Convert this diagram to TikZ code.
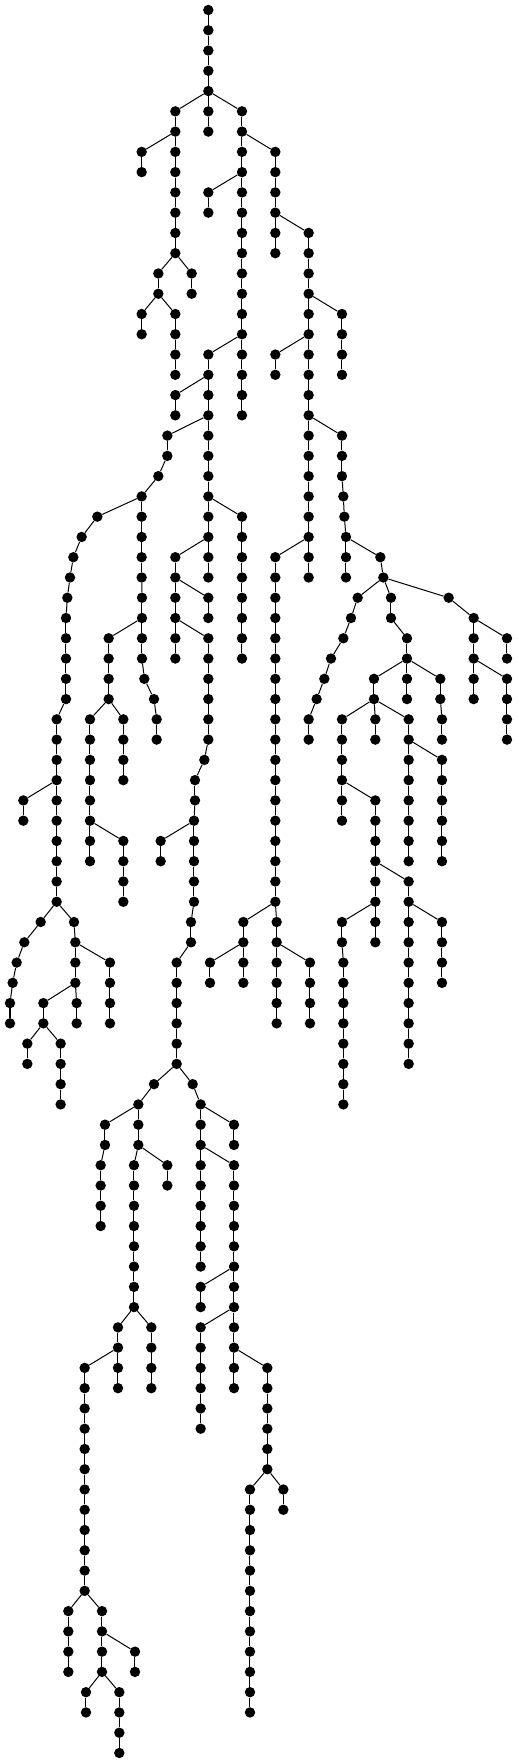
\documentclass[tikz,border=0pt]{standalone}
\usepackage{tikz}
\tikzset{
  dot/.style={circle,fill=black,draw=none,inner sep=0pt,minimum size=10.4pt},
  edge/.style={draw=black,line width=1pt}
}
\newcommand\C[3]{\pgfmathtruncatemacro\pl{#1-1}\node[dot] (n#1x#2) at (#2,#1) {};\draw[edge] (n\pl x#3) -- (n#1x#2);}
\begin{document}
\begin{tikzpicture}
\useasboundingbox (0pt,0pt) rectangle (518pt,-1763pt);
\begin{scope}[x=0.333333pt,y=-20.267pt,yshift=-10pt]
\node[dot] (n0x625) at (625,0) {};
\C{1}{625}{625}
\C{2}{625}{625}
\C{3}{625}{625}
\C{4}{625}{625}
\C{5}{526}{625} \C{5}{625}{625} \C{5}{726}{625}
\C{6}{526}{526} \C{6}{625}{625} \C{6}{726}{726}
\C{7}{425}{526} \C{7}{526}{526} \C{7}{726}{726} \C{7}{826}{726}
\C{8}{425}{425} \C{8}{526}{526} \C{8}{726}{726} \C{8}{826}{826}
\C{9}{526}{526} \C{9}{625}{726} \C{9}{726}{726} \C{9}{826}{826}
\C{10}{526}{526} \C{10}{625}{625} \C{10}{726}{726} \C{10}{826}{826}
\C{11}{526}{526} \C{11}{726}{726} \C{11}{826}{826} \C{11}{926}{826}
\C{12}{526}{526} \C{12}{726}{726} \C{12}{826}{826} \C{12}{926}{926}
\C{13}{475}{526} \C{13}{575}{526} \C{13}{726}{726} \C{13}{926}{926}
\C{14}{475}{475} \C{14}{575}{575} \C{14}{726}{726} \C{14}{926}{926}
\C{15}{425}{475} \C{15}{526}{475} \C{15}{726}{726} \C{15}{926}{926} \C{15}{1026}{926}
\C{16}{425}{425} \C{16}{526}{526} \C{16}{726}{726} \C{16}{926}{926} \C{16}{1026}{1026}
\C{17}{526}{526} \C{17}{625}{726} \C{17}{726}{726} \C{17}{826}{926} \C{17}{926}{926} \C{17}{1026}{1026}
\C{18}{526}{526} \C{18}{625}{625} \C{18}{726}{726} \C{18}{826}{826} \C{18}{926}{926} \C{18}{1026}{1026}
\C{19}{526}{625} \C{19}{625}{625} \C{19}{726}{726} \C{19}{926}{926}
\C{20}{526}{526} \C{20}{625}{625} \C{20}{726}{726} \C{20}{926}{926}
\C{21}{502}{625} \C{21}{625}{625} \C{21}{926}{926} \C{21}{1026}{926}
\C{22}{502}{502} \C{22}{625}{625} \C{22}{926}{926} \C{22}{1026}{1026}
\C{23}{475}{502} \C{23}{625}{625} \C{23}{926}{926} \C{23}{1026}{1026}
\C{24}{425}{475} \C{24}{625}{625} \C{24}{926}{926} \C{24}{1030}{1026}
\C{25}{292}{425} \C{25}{425}{425} \C{25}{625}{625} \C{25}{726}{625} \C{25}{926}{926} \C{25}{1033}{1030}
\C{26}{245}{292} \C{26}{425}{425} \C{26}{625}{625} \C{26}{726}{726} \C{26}{926}{926} \C{26}{1038}{1033}
\C{27}{220}{245} \C{27}{425}{425} \C{27}{526}{625} \C{27}{625}{625} \C{27}{726}{726} \C{27}{826}{926} \C{27}{926}{926} \C{27}{1038}{1038} \C{27}{1141}{1038}
\C{28}{210}{220} \C{28}{425}{425} \C{28}{526}{526} \C{28}{625}{625} \C{28}{726}{726} \C{28}{826}{826} \C{28}{926}{926} \C{28}{1038}{1038} \C{28}{1150}{1141}
\C{29}{202}{210} \C{29}{426}{425} \C{29}{526}{526} \C{29}{625}{526} \C{29}{726}{726} \C{29}{826}{826} \C{29}{1073}{1150} \C{29}{1173}{1150} \C{29}{1346}{1150}
\C{30}{198}{202} \C{30}{426}{426} \C{30}{526}{526} \C{30}{625}{625} \C{30}{726}{726} \C{30}{826}{826} \C{30}{1053}{1073} \C{30}{1173}{1173} \C{30}{1421}{1346}
\C{31}{198}{198} \C{31}{326}{426} \C{31}{426}{426} \C{31}{526}{526} \C{31}{625}{526} \C{31}{726}{726} \C{31}{826}{826} \C{31}{1030}{1053} \C{31}{1221}{1173} \C{31}{1421}{1421} \C{31}{1521}{1421}
\C{32}{198}{198} \C{32}{326}{326} \C{32}{426}{426} \C{32}{526}{526} \C{32}{625}{625} \C{32}{726}{726} \C{32}{826}{826} \C{32}{993}{1030} \C{32}{1221}{1221} \C{32}{1421}{1421} \C{32}{1521}{1521}
\C{33}{198}{198} \C{33}{326}{326} \C{33}{433}{426} \C{33}{625}{625} \C{33}{826}{826} \C{33}{973}{993} \C{33}{1122}{1221} \C{33}{1221}{1221} \C{33}{1321}{1221} \C{33}{1421}{1421} \C{33}{1521}{1421}
\C{34}{198}{198} \C{34}{326}{326} \C{34}{462}{433} \C{34}{625}{625} \C{34}{826}{826} \C{34}{950}{973} \C{34}{1122}{1122} \C{34}{1221}{1221} \C{34}{1321}{1321} \C{34}{1421}{1421} \C{34}{1521}{1521}
\C{35}{170}{198} \C{35}{270}{326} \C{35}{370}{326} \C{35}{470}{462} \C{35}{625}{625} \C{35}{826}{826} \C{35}{926}{950} \C{35}{1026}{1122} \C{35}{1126}{1122} \C{35}{1226}{1122} \C{35}{1326}{1321} \C{35}{1521}{1521}
\C{36}{170}{170} \C{36}{270}{270} \C{36}{370}{370} \C{36}{470}{470} \C{36}{625}{625} \C{36}{826}{826} \C{36}{926}{926} \C{36}{1026}{1026} \C{36}{1126}{1126} \C{36}{1226}{1226} \C{36}{1326}{1326} \C{36}{1521}{1521}
\C{37}{170}{170} \C{37}{270}{270} \C{37}{370}{370} \C{37}{613}{625} \C{37}{826}{826} \C{37}{1026}{1026} \C{37}{1226}{1226} \C{37}{1326}{1226}
\C{38}{170}{170} \C{38}{270}{270} \C{38}{370}{370} \C{38}{585}{613} \C{38}{826}{826} \C{38}{1026}{1026} \C{38}{1226}{1226} \C{38}{1326}{1326}
\C{39}{70}{170} \C{39}{170}{170} \C{39}{270}{270} \C{39}{585}{585} \C{39}{826}{826} \C{39}{1026}{1026} \C{39}{1126}{1026} \C{39}{1226}{1226} \C{39}{1326}{1326}
\C{40}{70}{70} \C{40}{170}{170} \C{40}{270}{270} \C{40}{582}{585} \C{40}{826}{826} \C{40}{1026}{1026} \C{40}{1126}{1126} \C{40}{1226}{1226} \C{40}{1326}{1326}
\C{41}{170}{170} \C{41}{270}{270} \C{41}{370}{270} \C{41}{482}{582} \C{41}{582}{582} \C{41}{826}{826} \C{41}{1126}{1126} \C{41}{1226}{1226} \C{41}{1326}{1326}
\C{42}{170}{170} \C{42}{270}{270} \C{42}{370}{370} \C{42}{482}{482} \C{42}{582}{582} \C{42}{826}{826} \C{42}{1126}{1126} \C{42}{1226}{1226} \C{42}{1326}{1326}
\C{43}{170}{170} \C{43}{370}{370} \C{43}{582}{582} \C{43}{826}{826} \C{43}{1126}{1126} \C{43}{1226}{1126}
\C{44}{170}{170} \C{44}{370}{370} \C{44}{582}{582} \C{44}{826}{826} \C{44}{1126}{1126} \C{44}{1226}{1226}
\C{45}{122}{170} \C{45}{222}{170} \C{45}{573}{582} \C{45}{730}{826} \C{45}{830}{826} \C{45}{1026}{1126} \C{45}{1126}{1126} \C{45}{1226}{1226} \C{45}{1326}{1226}
\C{46}{73}{122} \C{46}{226}{222} \C{46}{573}{573} \C{46}{730}{730} \C{46}{830}{830} \C{46}{1026}{1026} \C{46}{1126}{1126} \C{46}{1226}{1226} \C{46}{1326}{1326}
\C{47}{50}{73} \C{47}{226}{226} \C{47}{330}{226} \C{47}{530}{573} \C{47}{630}{730} \C{47}{730}{730} \C{47}{830}{830} \C{47}{930}{830} \C{47}{1030}{1026} \C{47}{1226}{1226} \C{47}{1326}{1326}
\C{48}{38}{50} \C{48}{226}{226} \C{48}{330}{330} \C{48}{530}{530} \C{48}{630}{630} \C{48}{730}{730} \C{48}{830}{830} \C{48}{930}{930} \C{48}{1030}{1030} \C{48}{1226}{1226} \C{48}{1326}{1326}
\C{49}{30}{38} \C{49}{130}{226} \C{49}{230}{226} \C{49}{330}{330} \C{49}{530}{530} \C{49}{830}{830} \C{49}{930}{930} \C{49}{1030}{1030} \C{49}{1226}{1226}
\C{50}{30}{30} \C{50}{130}{130} \C{50}{230}{230} \C{50}{330}{330} \C{50}{530}{530} \C{50}{830}{830} \C{50}{930}{930} \C{50}{1030}{1030} \C{50}{1226}{1226}
\C{51}{82}{130} \C{51}{182}{130} \C{51}{530}{530} \C{51}{1030}{1030} \C{51}{1226}{1226}
\C{52}{82}{82} \C{52}{182}{182} \C{52}{530}{530} \C{52}{1030}{1030} \C{52}{1226}{1226}
\C{53}{182}{182} \C{53}{462}{530} \C{53}{578}{530} \C{53}{1030}{1030}
\C{54}{182}{182} \C{54}{415}{462} \C{54}{602}{578} \C{54}{1030}{1030}
\C{55}{315}{415} \C{55}{415}{415} \C{55}{602}{602} \C{55}{702}{602}
\C{56}{315}{315} \C{56}{415}{415} \C{56}{602}{602} \C{56}{702}{702}
\C{57}{302}{315} \C{57}{402}{415} \C{57}{502}{415} \C{57}{602}{602} \C{57}{702}{602}
\C{58}{302}{302} \C{58}{402}{402} \C{58}{502}{502} \C{58}{602}{602} \C{58}{702}{702}
\C{59}{302}{302} \C{59}{402}{402} \C{59}{602}{602} \C{59}{702}{702}
\C{60}{302}{302} \C{60}{402}{402} \C{60}{602}{602} \C{60}{702}{702}
\C{61}{402}{402} \C{61}{602}{602} \C{61}{702}{702}
\C{62}{402}{402} \C{62}{602}{602} \C{62}{702}{702}
\C{63}{402}{402} \C{63}{602}{702} \C{63}{702}{702}
\C{64}{402}{402} \C{64}{602}{602} \C{64}{702}{702}
\C{65}{354}{402} \C{65}{454}{402} \C{65}{602}{702} \C{65}{702}{702}
\C{66}{354}{354} \C{66}{454}{454} \C{66}{602}{602} \C{66}{702}{702}
\C{67}{254}{354} \C{67}{354}{354} \C{67}{454}{454} \C{67}{602}{602} \C{67}{702}{702} \C{67}{802}{702}
\C{68}{254}{254} \C{68}{354}{354} \C{68}{454}{454} \C{68}{602}{602} \C{68}{702}{702} \C{68}{802}{802}
\C{69}{254}{254} \C{69}{602}{602} \C{69}{802}{802}
\C{70}{254}{254} \C{70}{602}{602} \C{70}{802}{802}
\C{71}{254}{254} \C{71}{802}{802}
\C{72}{254}{254} \C{72}{802}{802}
\C{73}{254}{254} \C{73}{750}{802} \C{73}{850}{802}
\C{74}{254}{254} \C{74}{750}{750} \C{74}{850}{850}
\C{75}{254}{254} \C{75}{750}{750}
\C{76}{254}{254} \C{76}{750}{750}
\C{77}{254}{254} \C{77}{750}{750}
\C{78}{254}{254} \C{78}{750}{750}
\C{79}{205}{254} \C{79}{306}{254} \C{79}{750}{750}
\C{80}{205}{205} \C{80}{306}{306} \C{80}{750}{750}
\C{81}{205}{205} \C{81}{306}{306} \C{81}{405}{306} \C{81}{750}{750}
\C{82}{205}{205} \C{82}{306}{306} \C{82}{405}{405} \C{82}{750}{750}
\C{83}{258}{306} \C{83}{358}{306} \C{83}{750}{750}
\C{84}{258}{258} \C{84}{358}{358} \C{84}{750}{750}
\C{85}{358}{358}
\C{86}{358}{358}
\end{scope}
\end{tikzpicture}
\end{document}
